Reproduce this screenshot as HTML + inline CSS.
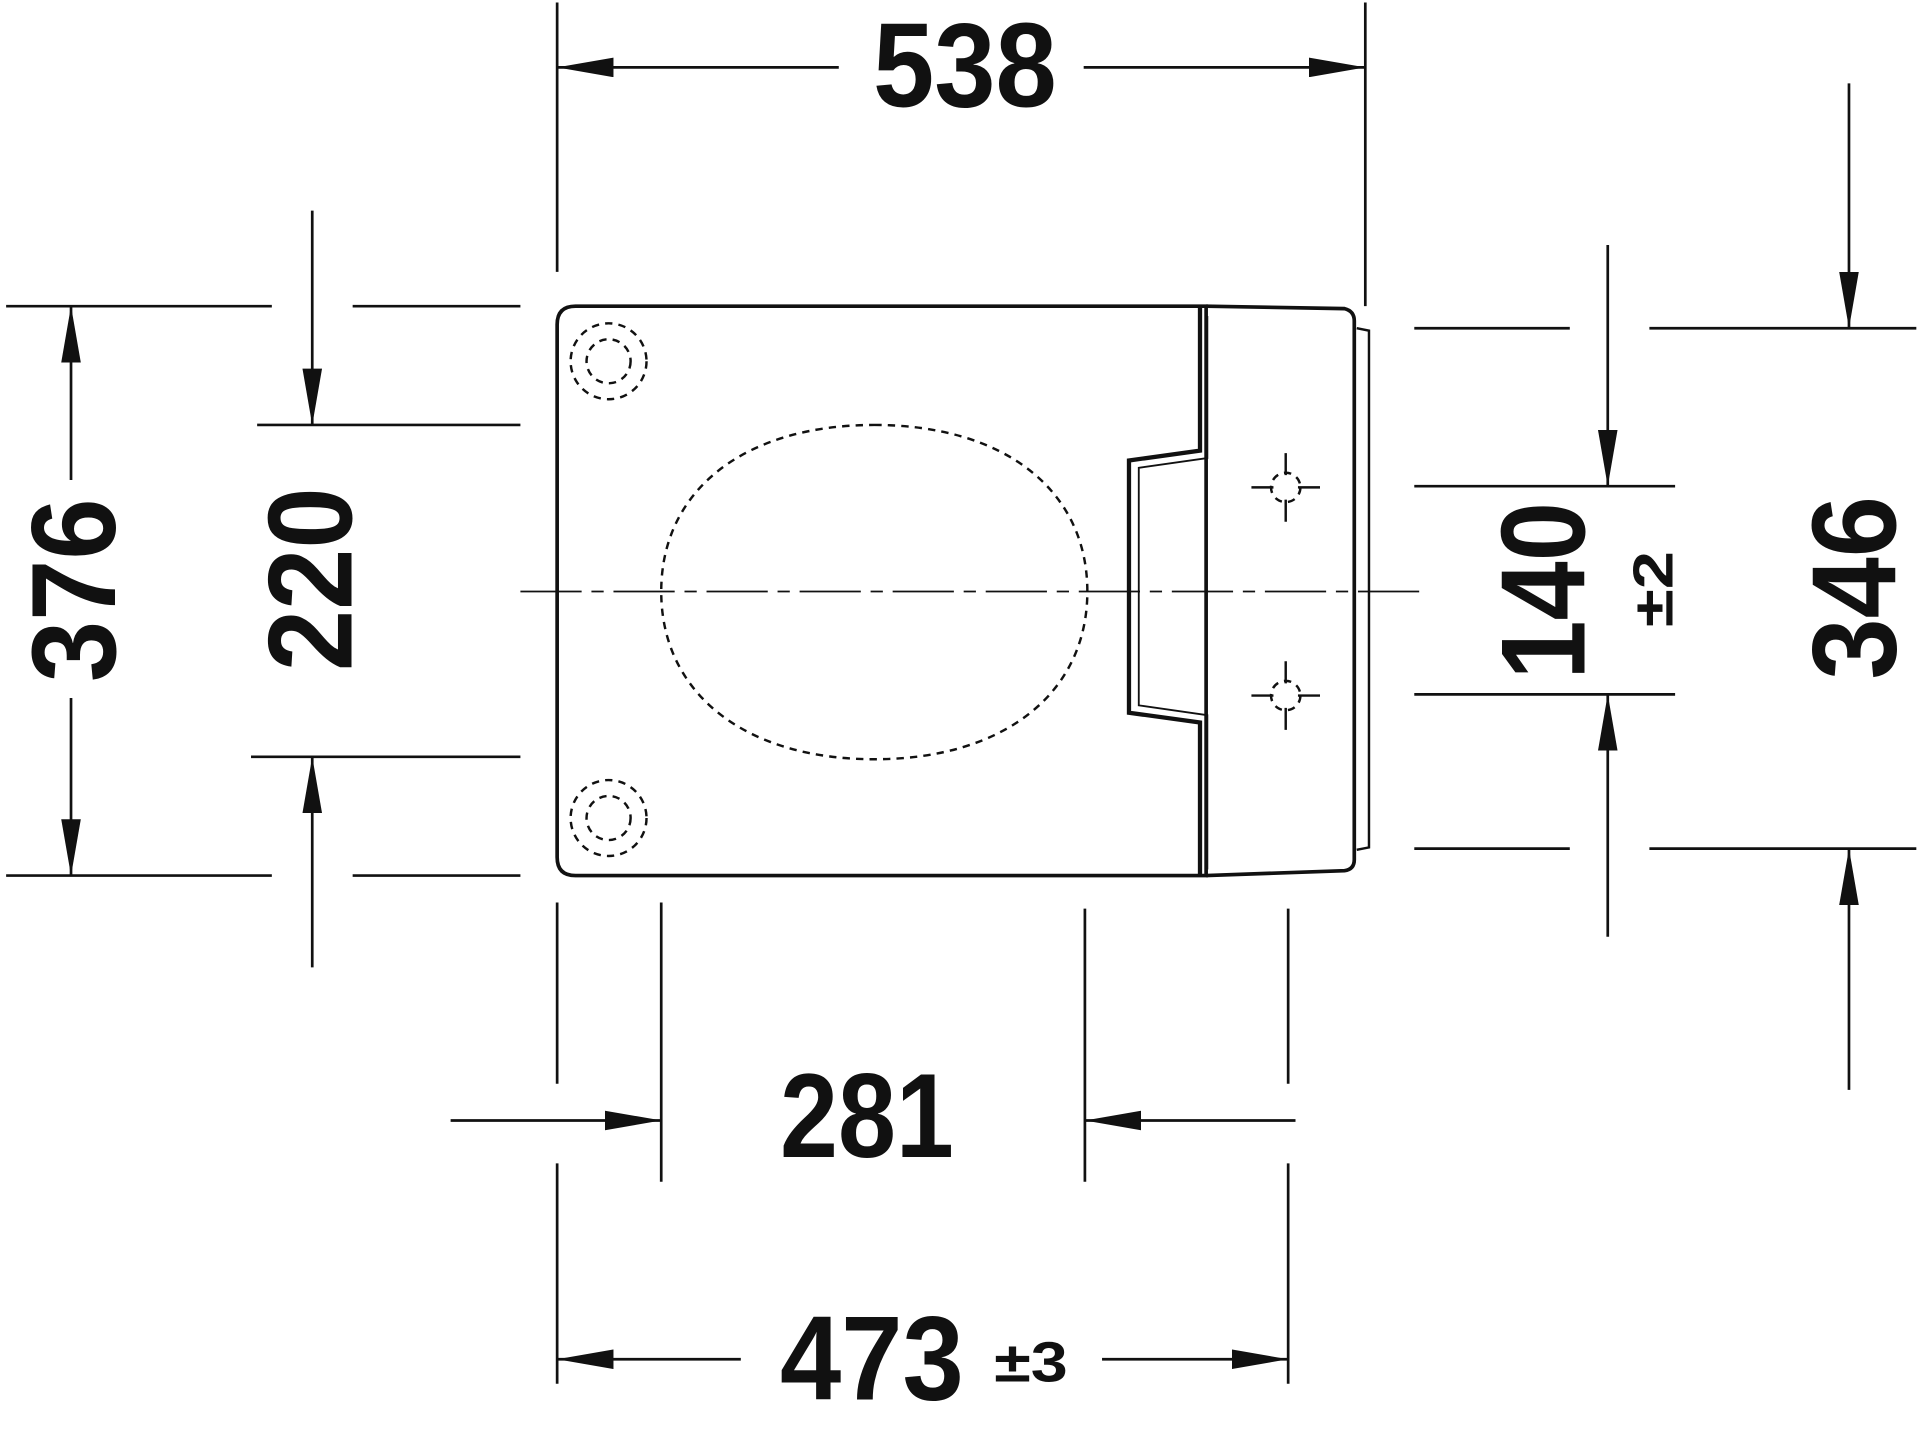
<!DOCTYPE html>
<html><head><meta charset="utf-8"><style>
html,body{margin:0;padding:0;background:#fff;}
svg{display:block}
text{font-family:"Liberation Sans",sans-serif;font-weight:bold;fill:#111}
</style></head><body>
<svg width="1920" height="1434" viewBox="0 0 1568 1171" xmlns="http://www.w3.org/2000/svg">
<defs>
<marker id="a" viewBox="0 0 10 10" refX="10" refY="5" markerWidth="46" markerHeight="16" markerUnits="userSpaceOnUse" orient="auto" preserveAspectRatio="none"><path d="M0,0 L10,5 L0,10 Z" fill="#111"/></marker>
</defs>
<g stroke="#111" stroke-width="2.2" fill="none">
<line x1="455" y1="2" x2="455" y2="222"/>
<line x1="1115" y1="2" x2="1115" y2="250"/>
<line x1="685" y1="55" x2="455" y2="55" marker-end="url(#a)"/>
<line x1="885" y1="55" x2="1115" y2="55" marker-end="url(#a)"/>
<line x1="5" y1="250" x2="222" y2="250"/><line x1="288" y1="250" x2="425" y2="250"/>
<line x1="5" y1="715" x2="222" y2="715"/><line x1="288" y1="715" x2="425" y2="715"/>
<line x1="58" y1="392" x2="58" y2="250" marker-end="url(#a)"/>
<line x1="58" y1="570" x2="58" y2="715" marker-end="url(#a)"/>
<line x1="210" y1="347" x2="425" y2="347"/><line x1="205" y1="618" x2="425" y2="618"/>
<line x1="255" y1="172" x2="255" y2="347" marker-end="url(#a)"/>
<line x1="255" y1="790" x2="255" y2="618" marker-end="url(#a)"/>
<line x1="1155" y1="397" x2="1368" y2="397"/><line x1="1155" y1="567" x2="1368" y2="567"/>
<line x1="1313" y1="200" x2="1313" y2="397" marker-end="url(#a)"/>
<line x1="1313" y1="765" x2="1313" y2="567" marker-end="url(#a)"/>
<line x1="1155" y1="268" x2="1282" y2="268"/><line x1="1347" y1="268" x2="1565" y2="268"/>
<line x1="1155" y1="693" x2="1282" y2="693"/><line x1="1347" y1="693" x2="1565" y2="693"/>
<line x1="1510" y1="68" x2="1510" y2="268" marker-end="url(#a)"/>
<line x1="1510" y1="890" x2="1510" y2="693" marker-end="url(#a)"/>
<line x1="455" y1="737" x2="455" y2="885"/>
<line x1="540" y1="737" x2="540" y2="965"/>
<line x1="886" y1="742" x2="886" y2="965"/>
<line x1="1052" y1="742" x2="1052" y2="885"/>
<line x1="368" y1="915" x2="540" y2="915" marker-end="url(#a)"/>
<line x1="1058" y1="915" x2="886" y2="915" marker-end="url(#a)"/>
<line x1="455" y1="950" x2="455" y2="1130"/>
<line x1="1052" y1="950" x2="1052" y2="1130"/>
<line x1="605" y1="1110" x2="455" y2="1110" marker-end="url(#a)"/>
<line x1="900" y1="1110" x2="1052" y2="1110" marker-end="url(#a)"/>
<path d="M470,250 L985,250 L985,715 L470,715 Q455,715 455,700 L455,265 Q455,250 470,250 Z" stroke-width="3"/>
<path d="M985,250 L1098,252 Q1106,254 1106,262 L1106,702 Q1106,710 1098,711 L985,715" stroke-width="3"/>
<path d="M1108,268 L1118,270 L1118,692 L1108,694" stroke-width="2"/>
<path d="M980,250 L980,368 L922,376 L922,582 L980,590 L980,715" stroke-width="3.5"/>
<path d="M986,258 L986,374 L930,382 L930,576 L986,584 L986,710" stroke-width="1.5"/>
<g stroke-dasharray="6,5" stroke-width="2">
<path d="M714,347 C820,347 888,400 888,483 C888,566 820,620 714,620 C608,620 540,566 540,483 C540,400 608,347 714,347 Z"/>
<circle cx="497" cy="295" r="31"/><circle cx="497" cy="295" r="18"/>
<circle cx="497" cy="668" r="31"/><circle cx="497" cy="668" r="18"/>
<circle cx="1050" cy="398" r="12"/><circle cx="1050" cy="568" r="12"/>
</g>
<g stroke-width="2">
<path d="M1022,398 h18 M1060,398 h18 M1050,370 v18 M1050,408 v18"/>
<path d="M1022,568 h18 M1060,568 h18 M1050,540 v18 M1050,578 v18"/>
</g>
<line x1="425" y1="483" x2="1160" y2="483" stroke-width="1.5" stroke-dasharray="50,8,10,8"/>
</g>
<g font-size="98">
<text x="713" y="87" textLength="150" lengthAdjust="spacingAndGlyphs">538</text>
<text x="637" y="945" textLength="142" lengthAdjust="spacingAndGlyphs">281</text>
<text x="637" y="1143" textLength="150" lengthAdjust="spacingAndGlyphs">473</text>
<text transform="translate(94,557) rotate(-90)" textLength="150" lengthAdjust="spacingAndGlyphs">376</text>
<text transform="translate(287,548) rotate(-90)" textLength="150" lengthAdjust="spacingAndGlyphs">220</text>
<text transform="translate(1294,555) rotate(-90)" textLength="145" lengthAdjust="spacingAndGlyphs">140</text>
<text transform="translate(1548,555) rotate(-90)" textLength="150" lengthAdjust="spacingAndGlyphs">346</text>
</g>
<g font-size="46">
<text x="812" y="1128" textLength="60" lengthAdjust="spacingAndGlyphs">±3</text>
<text transform="translate(1366,512) rotate(-90)" textLength="62" lengthAdjust="spacingAndGlyphs">±2</text>
</g>
</svg>
</body></html>
